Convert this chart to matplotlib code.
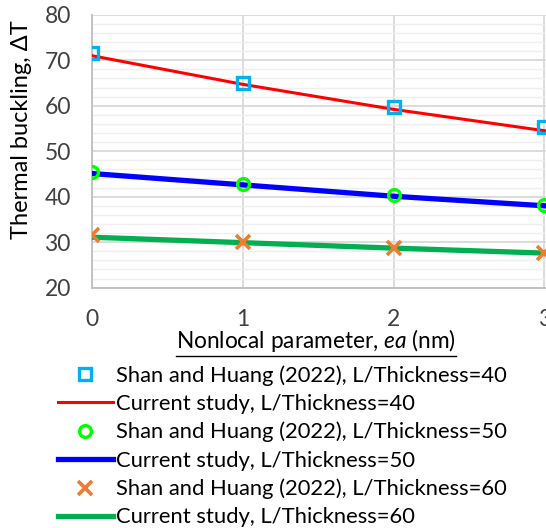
import matplotlib
matplotlib.use("Agg")
import matplotlib.pyplot as plt
from matplotlib.lines import Line2D

plt.rcParams["font.family"] = ["Lato", "DejaVu Sans"]
plt.rcParams["mathtext.fontset"] = "custom"
plt.rcParams["mathtext.rm"] = "Lato"
plt.rcParams["mathtext.it"] = "Lato:italic"

# nonlocal parameter ea (nm)
ea = [0, 1, 2, 3]

shan_40 = [71.5, 65.0, 59.8, 55.3]
current_40 = [71.0, 64.7, 59.2, 54.5]
shan_50 = [45.5, 42.9, 40.4, 38.2]
current_50 = [45.1, 42.6, 40.1, 38.0]
shan_60 = [31.6, 30.1, 28.7, 27.7]
current_60 = [31.1, 29.9, 28.7, 27.6]

labels = [
    "Shan and Huang (2022), L/Thickness=40",
    "Current study, L/Thickness=40",
    "Shan and Huang (2022), L/Thickness=50",
    "Current study, L/Thickness=50",
    "Shan and Huang (2022), L/Thickness=60",
    "Current study, L/Thickness=60",
]

W, H = 546, 528
fig = plt.figure(figsize=(W / 100, H / 100), dpi=100)
x0, x1, ytop, ybot = 91.7, 546.0, 14.7, 287.7
ax = fig.add_axes([x0 / W, (H - ybot) / H, (x1 - x0) / W, (ybot - ytop) / H])

ax.set_xlim(0, 3.01)
ax.set_ylim(20, 80)
ax.set_xticks([0, 1, 2, 3])
ax.set_yticks(range(20, 81, 10))
ax.set_yticks(range(20, 81, 2), minor=True)
ax.grid(True, which="major", color="#d9d9d9", linewidth=1.3)
ax.grid(True, which="minor", axis="y", color="#efefef", linewidth=1.0)
ax.set_axisbelow(True)
for side in ["top", "right"]:
    ax.spines[side].set_visible(False)
for side in ["left", "bottom"]:
    ax.spines[side].set_color("#bfbfbf")
    ax.spines[side].set_linewidth(1.3)
ax.tick_params(which="both", length=0)
ax.tick_params(axis="y", pad=15, labelsize=16.5, labelcolor="#404040")
ax.tick_params(axis="x", pad=15, labelsize=16.5, labelcolor="#404040")

h = []
h += ax.plot(ea, current_40, color="#ff0000", lw=2.2, zorder=3)
h += ax.plot(ea, current_50, color="#0000ff", lw=3.8, zorder=3)
h += ax.plot(ea, current_60, color="#00b050", lw=3.8, zorder=3)
h += ax.plot(ea, shan_40, ls="none", marker="s", ms=8.5, mfc="none",
             mec="#00b0f0", mew=2.4, zorder=4)
h += ax.plot(ea, shan_50, ls="none", marker="o", ms=8.5, mfc="none",
             mec="#00ff00", mew=2.4, zorder=4)
h += ax.plot(ea, shan_60, ls="none", marker="x", ms=9.5,
             mec="#ed7d31", mew=2.6, zorder=4)

handles = [h[3], h[0], h[4], h[1], h[5], h[2]]

fig.text(22 / W, 1 - 130 / H, "Thermal buckling, \u0394T", rotation=90,
         ha="center", va="center", fontsize=17, color="#000000")

xl = fig.text(316 / W, 1 - 341 / H, "Nonlocal parameter, $\\mathit{ea}$ (nm)",
              ha="center", va="center", fontsize=16.3, color="#000000")

leg = fig.legend(handles, labels, loc="upper left",
                 bbox_to_anchor=(58 / W, 1 - 365 / H), frameon=False,
                 fontsize=15.8, handlelength=2.5, handletextpad=0.15,
                 labelspacing=0.37, borderaxespad=0, borderpad=0)

# underline the x label
fig.canvas.draw()
bb = xl.get_window_extent()
fig.add_artist(Line2D([bb.x0 / W, bb.x1 / W], [(bb.y0 - 1) / H, (bb.y0 - 1) / H],
                      transform=fig.transFigure, color="#000000", lw=1.0))

fig.savefig("out.png", dpi=100)
